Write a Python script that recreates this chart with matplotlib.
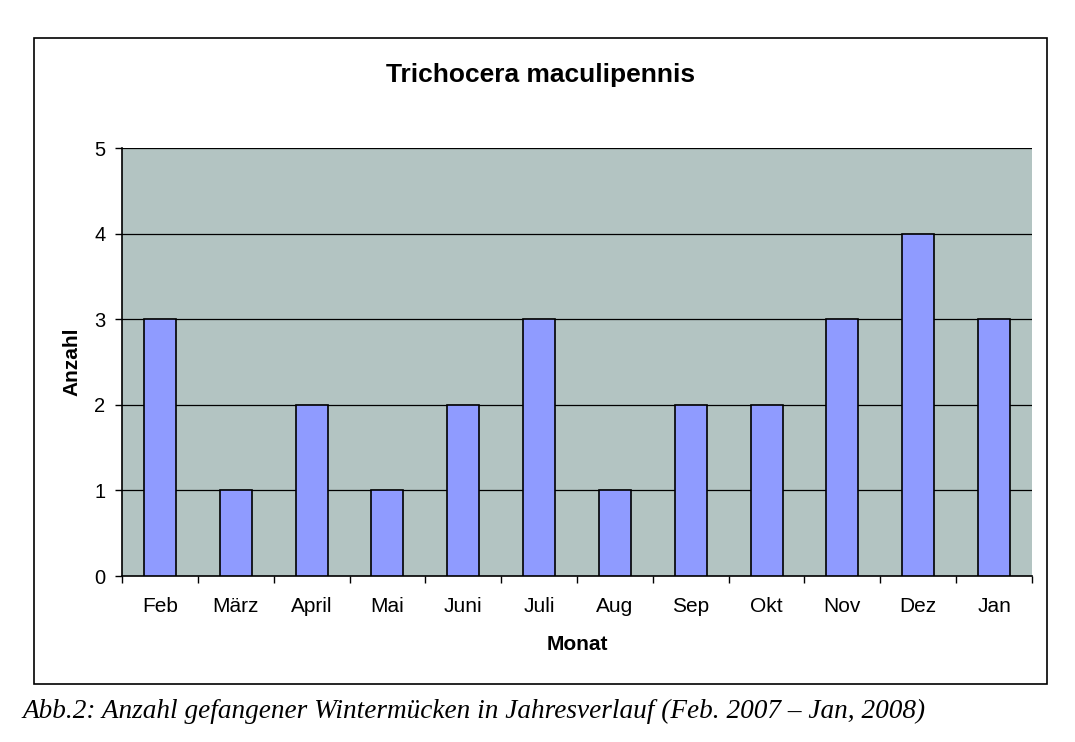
import matplotlib
matplotlib.use("Agg")
import matplotlib.pyplot as plt
from matplotlib.patches import Rectangle

months = ["Feb", "März", "April", "Mai", "Juni", "Juli", "Aug", "Sep", "Okt", "Nov", "Dez", "Jan"]
counts = [3, 1, 2, 1, 2, 3, 1, 2, 2, 3, 4, 3]
yticks = [0, 1, 2, 3, 4, 5]

W, H = 1075, 742
fig = plt.figure(figsize=(W/100, H/100), dpi=100)
fig.patch.set_facecolor("white")

# outer chart frame
fig.add_artist(Rectangle((34/W, 1-684/H), (1047-34)/W, (684-38)/H, transform=fig.transFigure,
                         fill=False, edgecolor="black", linewidth=1.2))

ax = fig.add_axes([122/W, 1-576/H, (1032-122)/W, (576-148)/H])
ax.set_facecolor("#B3C4C2")
x = list(range(len(months)))
ax.bar(x, counts, width=0.42, color="#8F9BFF", edgecolor="black", linewidth=1.2, zorder=3)
ax.set_xlim(-0.5, len(months)-0.5)
ax.set_ylim(0, 5)
ax.set_yticks(yticks)
ax.set_yticklabels([str(v) for v in yticks], fontsize=14.5, family="Liberation Sans")
for v in yticks[1:]:
    ax.axhline(v, color="black", linewidth=0.9, zorder=1)
ax.set_xticks(x)
ax.set_xticklabels(months, fontsize=15, family="Liberation Sans")
ax.set_xticks([i-0.5 for i in range(len(months)+1)], minor=True)
ax.tick_params(axis="x", which="major", length=0, pad=15)
ax.tick_params(axis="x", which="minor", length=5, width=1, direction="out")
ax.tick_params(axis="y", length=5, width=1, direction="out", pad=7)
for s in ["top", "right"]:
    ax.spines[s].set_visible(False)
ax.spines["left"].set_linewidth(1.2)
ax.spines["bottom"].set_linewidth(1.2)

fig.text(541/W, 1-75/H, "Trichocera maculipennis", ha="center", va="center",
         fontsize=19, fontweight="bold", family="Liberation Sans")
fig.text(72/W, 1-362/H, "Anzahl", ha="center", va="center", rotation=90,
         fontsize=15, fontweight="bold", family="Liberation Sans")
fig.text(577/W, 1-645/H, "Monat", ha="center", va="center",
         fontsize=15, fontweight="bold", family="Liberation Sans")
fig.text(22/W, 1-711/H, "Abb.2: Anzahl gefangener Wintermücken in Jahresverlauf (Feb. 2007 – Jan, 2008)",
         ha="left", va="center", fontsize=19.6, style="italic", family="Liberation Serif")

fig.savefig("out.png", dpi=100)
